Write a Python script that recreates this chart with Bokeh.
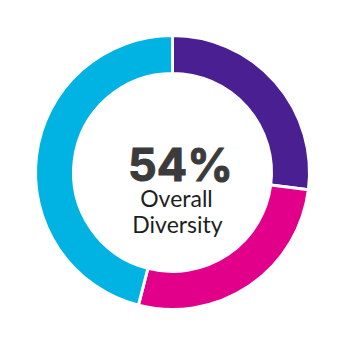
import numpy as np
from bokeh.plotting import figure
from bokeh.models import ColumnDataSource
from bokeh.core.properties import value
from bokeh.embed import file_html
from bokeh.resources import INLINE

segments = ["Group A", "Group B", "Group C"]
shares = [27, 27, 46]
colors = ["#4a1f92", "#e2008a", "#00b3e2"]
headline = "54%"
caption = ["Overall", "Diversity"]

vals = np.array(shares, dtype=float)
frac = vals / vals.sum()
ends = np.cumsum(frac) * 2 * np.pi
starts = ends - frac * 2 * np.pi
src = ColumnDataSource(dict(
    seg=segments,
    start=np.pi / 2 - starts,
    end=np.pi / 2 - ends,
    color=colors,
))

p = figure(width=344, height=344, x_range=(0, 344), y_range=(0, 344),
           output_backend="svg", toolbar_location=None, min_border=0,
           background_fill_color="white", border_fill_color="white")
p.axis.visible = False
p.grid.visible = False
p.outline_line_color = None

p.annular_wedge(x=172, y=172, inner_radius=99, outer_radius=137,
                start_angle="start", end_angle="end", direction="clock",
                fill_color="color", line_color="white", line_width=3,
                source=src)

p.text(x=[180], y=[180], text=[headline], text_font=value("Inter"),
       text_font_style="bold", text_font_size="45px", text_color="#3b3b3b",
       text_outline_color="#3b3b3b",
       text_align="center", text_baseline="alphabetic")
p.text(x=[176, 177], y=[147, 121], text=caption, text_font=value("Lato"),
       text_font_size="23px", text_color="#1e1e1e",
       text_align="center", text_baseline="alphabetic")

open("out.html", "w").write(file_html(p, INLINE))
